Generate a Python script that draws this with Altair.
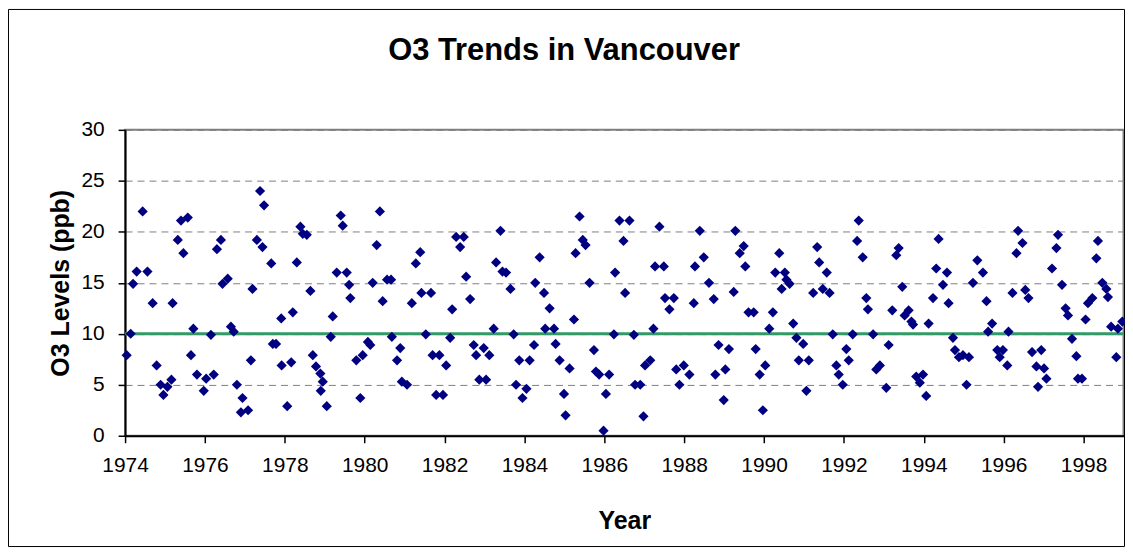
import altair as alt
import pandas as pd

years = [
    1974.04, 1974.14, 1974.20, 1974.29, 1974.44, 1974.56, 1974.69, 1974.79, 1974.89, 1974.96,
    1975.06, 1975.16, 1975.19, 1975.32, 1975.40, 1975.46, 1975.57, 1975.65, 1975.71, 1975.80,
    1975.97, 1976.03, 1976.15, 1976.22, 1976.30, 1976.40, 1976.44, 1976.57, 1976.65, 1976.72,
    1976.80, 1976.90, 1976.94, 1977.08, 1977.15, 1977.19, 1977.30, 1977.38, 1977.44, 1977.48,
    1977.66, 1977.70, 1977.78, 1977.91, 1977.92, 1978.06, 1978.16, 1978.20, 1978.30, 1978.39,
    1978.45, 1978.55, 1978.64, 1978.70, 1978.78, 1978.89, 1978.90, 1978.95, 1979.05, 1979.15,
    1979.20, 1979.30, 1979.40, 1979.45, 1979.55, 1979.61, 1979.64, 1979.79, 1979.89, 1979.95,
    1980.08, 1980.14, 1980.20, 1980.30, 1980.38, 1980.45, 1980.56, 1980.66, 1980.68, 1980.81,
    1980.89, 1980.93, 1981.06, 1981.18, 1981.28, 1981.39, 1981.42, 1981.53, 1981.66, 1981.70,
    1981.79, 1981.87, 1981.96, 1982.04, 1982.14, 1982.19, 1982.29, 1982.39, 1982.48, 1982.54,
    1982.64, 1982.73, 1982.79, 1982.87, 1982.98, 1983.04, 1983.12, 1983.23, 1983.29, 1983.40,
    1983.45, 1983.54, 1983.65, 1983.73, 1983.79, 1983.87, 1983.95, 1984.05, 1984.13, 1984.24,
    1984.27, 1984.38, 1984.49, 1984.52, 1984.63, 1984.74, 1984.78, 1984.88, 1984.99, 1985.03,
    1985.13, 1985.24, 1985.28, 1985.38, 1985.46, 1985.53, 1985.63, 1985.74, 1985.79, 1985.87,
    1985.98, 1986.04, 1986.12, 1986.24, 1986.27, 1986.38, 1986.48, 1986.52, 1986.63, 1986.74,
    1986.77, 1986.90, 1986.98, 1987.02, 1987.15, 1987.23, 1987.27, 1987.38, 1987.49, 1987.52,
    1987.63, 1987.74, 1987.80, 1987.88, 1987.99, 1988.13, 1988.24, 1988.27, 1988.39, 1988.49,
    1988.62, 1988.74, 1988.78, 1988.86, 1988.99, 1989.03, 1989.12, 1989.24, 1989.28, 1989.39,
    1989.49, 1989.53, 1989.61, 1989.74, 1989.79, 1989.89, 1989.97, 1990.03, 1990.13, 1990.22,
    1990.28, 1990.38, 1990.44, 1990.52, 1990.56, 1990.64, 1990.73, 1990.81, 1990.87, 1990.98,
    1991.06, 1991.12, 1991.23, 1991.33, 1991.38, 1991.47, 1991.57, 1991.64, 1991.72, 1991.81,
    1991.87, 1991.97, 1992.06, 1992.12, 1992.22, 1992.33, 1992.37, 1992.47, 1992.56, 1992.60,
    1992.73, 1992.81, 1992.90, 1993.06, 1993.12, 1993.21, 1993.31, 1993.37, 1993.46, 1993.52,
    1993.62, 1993.69, 1993.73, 1993.81, 1993.90, 1993.98, 1994.06, 1994.12, 1994.23, 1994.31,
    1994.37, 1994.48, 1994.58, 1994.62, 1994.73, 1994.78, 1994.88, 1994.98, 1995.07, 1995.13,
    1995.23, 1995.34, 1995.48, 1995.57, 1995.61, 1995.71, 1995.84, 1995.90, 1995.98, 1996.09,
    1996.12, 1996.22, 1996.32, 1996.36, 1996.47, 1996.54, 1996.62, 1996.71, 1996.82, 1996.86,
    1996.94, 1997.01, 1997.07, 1997.21, 1997.32, 1997.36, 1997.46, 1997.55, 1997.61, 1997.71,
    1997.82, 1997.86, 1997.96, 1998.05, 1998.11, 1998.22, 1998.32, 1998.36, 1998.47, 1998.57,
    1998.61, 1998.69, 1998.82, 1998.86, 1998.97,
]
o3_ppb = [
    7.9, 10.0, 14.9, 16.1, 22.0, 16.1, 13.0, 6.9, 5.0, 4.0,
    4.8, 5.5, 13.0, 19.2, 21.1, 17.9, 21.4, 7.9, 10.5, 6.0,
    4.4, 5.6, 9.9, 6.0, 18.3, 19.2, 14.9, 15.4, 10.7, 10.2,
    5.0, 2.3, 3.7, 2.5, 7.4, 14.4, 19.2, 24.0, 18.5, 22.6,
    16.9, 9.0, 9.0, 11.5, 6.9, 2.9, 7.2, 12.1, 17.0, 20.5,
    19.8, 19.7, 14.2, 7.9, 6.8, 6.1, 4.4, 5.3, 2.9, 9.7,
    11.7, 16.0, 21.6, 20.6, 16.0, 14.8, 13.5, 7.4, 3.7, 7.9,
    9.2, 8.9, 15.0, 18.7, 22.0, 13.2, 15.3, 15.3, 9.7, 7.4,
    8.6, 5.3, 5.0, 13.0, 16.9, 18.0, 14.0, 9.95, 14.0, 7.9,
    4.0, 7.9, 4.0, 6.9, 9.6, 12.4, 19.5, 18.5, 19.5, 15.6,
    13.4, 8.9, 7.9, 5.5, 8.6, 5.5, 7.9, 10.5, 17.0, 20.1,
    16.1, 16.0, 14.4, 9.95, 5.0, 7.4, 3.7, 4.6, 7.4, 8.9,
    15.0, 17.5, 14.0, 10.5, 12.5, 10.5, 9.0, 7.4, 4.1, 2.0,
    6.6, 11.4, 17.9, 21.5, 19.2, 18.7, 15.0, 8.4, 6.3, 6.0,
    0.5, 4.1, 6.0, 9.95, 16.0, 21.1, 19.1, 14.0, 21.1, 9.9,
    5.0, 5.0, 1.9, 6.9, 7.4, 10.5, 16.6, 20.5, 16.6, 13.5,
    12.4, 13.5, 6.5, 5.0, 6.9, 6.0, 13.0, 16.6, 20.1, 17.5,
    15.0, 13.4, 6.0, 8.9, 3.5, 6.5, 8.5, 14.1, 20.1, 17.9,
    18.6, 16.6, 12.1, 12.1, 8.5, 6.0, 2.5, 6.9, 10.5, 12.1,
    16.0, 17.9, 14.4, 16.0, 15.3, 14.9, 11.0, 9.6, 7.4, 9.0,
    4.4, 7.4, 14.0, 18.5, 17.0, 14.4, 16.0, 14.0, 9.95, 6.9,
    6.0, 5.0, 8.5, 7.4, 9.95, 19.1, 21.1, 17.5, 13.5, 12.4,
    9.95, 6.5, 6.9, 4.7, 8.9, 12.3, 17.7, 18.4, 14.6, 11.8,
    12.3, 11.2, 10.9, 5.8, 5.2, 6.0, 3.9, 11.0, 13.5, 16.4,
    19.3, 14.8, 16.0, 13.0, 9.6, 8.4, 7.7, 7.9, 5.0, 7.7,
    15.0, 17.2, 16.0, 13.2, 10.2, 11.0, 8.4, 7.7, 8.4, 6.9,
    10.2, 14.0, 17.9, 20.1, 18.9, 14.3, 13.5, 8.2, 6.8, 4.8,
    8.4, 6.6, 5.6, 16.4, 18.4, 19.7, 14.8, 12.5, 11.8, 9.5,
    7.8, 5.6, 5.6, 11.4, 13.0, 13.5, 17.4, 19.1, 15.0, 14.4,
    13.6, 10.7, 7.7, 10.5, 11.2,
]
reference_level = [10]
x_tick_years = list(range(1974, 1999, 2))
y_ticks = [0, 5, 10, 15, 20, 25, 30]

FONT = "Liberation Sans"
W, H = 1002, 307

df = pd.DataFrame({"Year": years, "O3": o3_ppb})
ref_df = pd.DataFrame({"level": reference_level})
one = pd.DataFrame({"k": [0]})

x_scale = alt.Scale(domain=[1974, 1999], nice=False, zero=False)
y_scale = alt.Scale(domain=[0, 30], nice=False)

points = alt.Chart(df).mark_point(
    shape="diamond", filled=True, size=105, color="#000080", opacity=1
).encode(
    x=alt.X("Year:Q", scale=x_scale, axis=alt.Axis(
        values=x_tick_years, format="d", grid=False, title="Year",
        labelFont=FONT, labelFontSize=21, labelColor="black", labelFlush=False,
        labelOverlap=False, labelPadding=12, tickSize=7, tickColor="black",
        tickWidth=1.5, domainColor="black", domainWidth=2,
        titleFont=FONT, titleFontSize=25, titleFontWeight="bold", titleColor="black",
        titleBaseline="alphabetic", titleY=93,
    )),
    y=alt.Y("O3:Q", scale=y_scale, axis=alt.Axis(
        values=y_ticks, format="d", grid=True, gridDash=[7, 5], gridColor="#7f7f7f",
        gridWidth=1, title="O3 Levels (ppb)",
        labelFont=FONT, labelFontSize=21, labelColor="black", labelPadding=14,
        tickSize=7, tickColor="black", tickWidth=1.5, domainColor="black", domainWidth=2,
        titleFont=FONT, titleFontSize=25, titleFontWeight="bold", titleColor="black",
        titleBaseline="middle", titleX=-65, titleY=H / 2,
    )),
)

ref_line = alt.Chart(ref_df).mark_rule(color="#339966", strokeWidth=3).encode(
    y=alt.Y("level:Q", scale=y_scale)
)

title = alt.Chart(one).mark_text(
    text="O3 Trends in Vancouver", font=FONT, fontSize=31, fontWeight="bold",
    color="black", align="center", baseline="alphabetic"
).encode(x=alt.value(440.5), y=alt.value(-70.3))

frame = alt.Chart(one).mark_rect(
    fill="transparent", stroke="black", strokeWidth=1
).encode(
    x=alt.value(-117), x2=alt.value(1003), y=alt.value(-120.8), y2=alt.value(418.2)
)

chart = alt.layer(frame, ref_line, points, title).properties(
    width=W, height=H,
    autosize=alt.AutoSizeParams(type="none"),
    padding={"left": 117.5, "top": 121.3, "right": 1.5, "bottom": 111.7},
    background="white",
).configure_view(stroke="#808080", strokeWidth=2)

chart.save("out.html", embed_options={"renderer": "svg", "actions": False})
